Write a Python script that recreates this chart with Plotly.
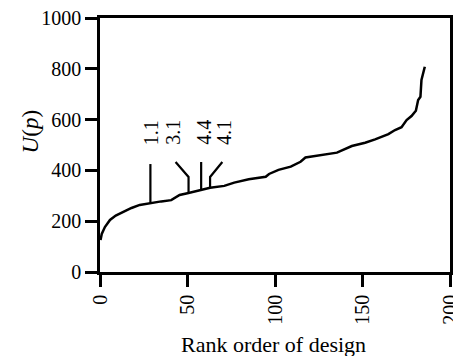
import plotly.graph_objects as go

# Ranked utility curve (rank, U(p))
rank = [0.3, 1, 2.8, 5.7, 9, 13, 18, 22.7, 28.8, 35, 40.7, 45.5, 50.6, 57.8, 62.9, 71, 76.7, 85,
        94.7, 96.6, 102, 109, 114.6, 117.4, 125, 135.4, 143.9, 151.5, 157.2, 164.8, 168.6,
        172.3, 175.2, 178, 180.5, 181.8, 183.1, 183.7, 185.6]
utility = [126, 150, 177, 205, 222, 236, 252, 264, 272, 278, 283, 303, 311, 323, 332, 339, 352, 365,
           375, 386, 402, 415, 434, 451, 459, 470, 496, 509, 522, 543, 559,
           570, 598, 614, 635, 677, 690, 756, 808]

# Labelled designs
label_text = ["1.1", "3.1", "4.4", "4.1"]
label_rank = [28.8, 50.6, 57.8, 62.9]
label_value = [272, 311, 323, 332]
label_knee = [425, 374, 433, 374]
label_top = [425, 433, 433, 433]
label_top_rank = [28.8, 43.2, 57.8, 69.9]
label_text_rank = [28.9, 41.2, 59.0, 70.5]
label_text_value = [549, 549, 549, 549]

x_ticks = [0, 50, 100, 150, 200]
y_ticks = [0, 200, 400, 600, 800, 1000]

fig = go.Figure()
fig.add_trace(go.Scatter(x=rank, y=utility, mode="lines",
                         line=dict(color="black", width=2.5), showlegend=False))

for i in range(len(label_text)):
    fig.add_trace(go.Scatter(
        x=[label_rank[i], label_rank[i], label_top_rank[i]],
        y=[label_value[i], label_knee[i], label_top[i]],
        mode="lines", line=dict(color="black", width=2.2), showlegend=False))
    fig.add_annotation(x=label_text_rank[i], y=label_text_value[i], text=label_text[i],
                       showarrow=False, textangle=-90,
                       font=dict(family="Liberation Serif", size=20, color="black"))

fig.add_annotation(xref="paper", yref="paper", x=-0.199, y=0.551, text="<i>U</i>(<i>p</i>)",
                   showarrow=False, textangle=-90, xanchor="center", yanchor="middle",
                   font=dict(family="Liberation Serif", size=23, color="black"))
fig.add_annotation(xref="paper", yref="paper", x=0.497, y=-0.287, text="Rank order of design",
                   showarrow=False, xanchor="center", yanchor="middle",
                   font=dict(family="Liberation Serif", size=22, color="black"))

axis_common = dict(showline=True, linecolor="black", linewidth=2.5, mirror=True,
                   ticks="outside", tickcolor="black", tickwidth=2.5, ticklen=12,
                   showgrid=False, zeroline=False, automargin=False,
                   tickfont=dict(family="Liberation Serif", size=20, color="black"))

fig.update_layout(
    width=453, height=356,
    margin=dict(l=100, r=3, t=18, b=84, autoexpand=False),
    plot_bgcolor="white", paper_bgcolor="white",
    xaxis=dict(range=[0, 200], tickvals=x_ticks, tickangle=-90,
               ticklabeloverflow="allow", **axis_common),
    yaxis=dict(range=[0, 1000], tickvals=y_ticks, **axis_common),
)

fig.write_html("out.html")
